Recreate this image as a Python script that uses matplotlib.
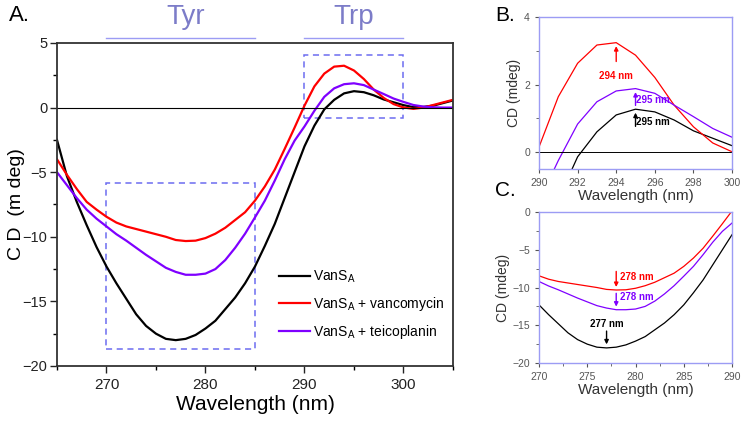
import numpy as np
import matplotlib
matplotlib.use("Agg")
import matplotlib.pyplot as plt
from matplotlib.patches import Rectangle
from matplotlib.ticker import MultipleLocator

plt.rcParams['font.family'] = ['Liberation Sans', 'DejaVu Sans']

# CD spectra, 1 nm steps
wavelength = np.arange(265, 306)
vans = [-2.5, -5.3, -7.3, -9.1, -10.8, -12.3, -13.6, -14.8, -16.0, -16.9,
        -17.5, -17.9, -18.0, -17.9, -17.6, -17.1, -16.5, -15.6, -14.7, -13.6,
        -12.3, -10.7, -9.0, -7.0, -5.0, -3.0, -1.4, -0.14, 0.60, 1.10,
        1.27, 1.19, 0.95, 0.63, 0.41, 0.19, 0.03, 0.05, 0.15, 0.35, 0.55]
vans_vanco = [-4.0, -5.2, -6.3, -7.3, -7.9, -8.45, -8.9, -9.2, -9.4, -9.6,
              -9.8, -10.0, -10.25, -10.33, -10.3, -10.1, -9.76, -9.3, -8.7, -8.1,
              -7.2, -6.1, -4.8, -3.2, -1.55, 0.15, 1.64, 2.63, 3.17, 3.24,
              2.87, 2.21, 1.39, 0.75, 0.27, 0.01, -0.1, 0.0, 0.2, 0.4, 0.6]
vans_teico = [-5.0, -6.0, -7.0, -7.9, -8.6, -9.2, -9.8, -10.3, -10.85, -11.4,
              -11.9, -12.4, -12.72, -12.94, -12.94, -12.85, -12.5, -11.8, -10.85, -9.76,
              -8.5, -7.2, -5.65, -4.0, -2.56, -1.46, -0.25, 0.83, 1.49, 1.81,
              1.88, 1.74, 1.39, 1.05, 0.70, 0.44, 0.2, 0.08, 0.02, 0.0, 0.0]

labels = ['VanS$_\\mathregular{A}$', 'VanS$_\\mathregular{A}$ + vancomycin',
          'VanS$_\\mathregular{A}$ + teicoplanin']
colors = ['black', '#ff0000', '#7f00ff']
series = [vans, vans_vanco, vans_teico]

box_col = '#6c6cf0'
light = '#9c9cf4'
region_col = '#7c7cc8'

fig = plt.figure(figsize=(7.41, 4.29), dpi=100)

# ---- Panel A
ax = fig.add_axes([0.0769, 0.1469, 0.5344, 0.7529])
for y, c, lab in zip(series, colors, labels):
    ax.plot(wavelength, y, color=c, lw=1.6, label=lab)
ax.axhline(0, color='black', lw=0.8)
ax.set_xlim(265, 305)
ax.set_ylim(-20, 5)
ax.xaxis.set_major_locator(MultipleLocator(10))
ax.xaxis.set_minor_locator(MultipleLocator(5))
ax.yaxis.set_major_locator(MultipleLocator(5))
ax.yaxis.set_minor_locator(MultipleLocator(2.5))
ax.tick_params(which='major', length=5, width=1, labelsize=11, colors='#222222')
ax.tick_params(axis='y', which='major', labelsize=10.5, pad=2)
ax.tick_params(which='minor', length=3, width=1)
for s in ax.spines.values():
    s.set_linewidth(1.3)
    s.set_color('#333333')
ax.set_xlabel('Wavelength (nm)', fontsize=15, labelpad=2)
ax.set_ylabel('C D  (m deg)', fontsize=14)
ax.yaxis.set_label_coords(-0.082, 0.5)

ax.add_patch(Rectangle((270, -18.65), 15, 12.8, fill=False, ec=box_col, lw=1.1,
                       ls=(0, (4, 3))))
ax.add_patch(Rectangle((290, -0.79), 10, 4.87, fill=False, ec=box_col, lw=1.1,
                       ls=(0, (4, 3))))
ax.plot([270, 285], [5.4, 5.4], color=light, lw=1.0, clip_on=False)
ax.plot([290, 300], [5.4, 5.4], color=light, lw=1.0, clip_on=False)
ax.text(278, 7.0, 'Tyr', color=region_col, fontsize=20, ha='center', va='center')
ax.text(295, 7.0, 'Trp', color=region_col, fontsize=20, ha='center', va='center')

ax.legend(frameon=False, loc='upper left', bbox_to_anchor=(0.53, 0.34),
          fontsize=10, handlelength=2.2, handletextpad=0.2, labelspacing=0.7)

fig.text(0.012, 0.965, 'A.', fontsize=16, va='center')

# ---- Panel B / C common style
def detail_style(a):
    for s in a.spines.values():
        s.set_color(light)
        s.set_linewidth(1.0)
    a.tick_params(which='both', labelsize=7.5, colors='#555555', direction='out')
    a.tick_params(which='major', length=3)
    a.tick_params(which='minor', length=2)
    a.set_xlabel('Wavelength (nm)', fontsize=11, color='#333333', labelpad=1)
    a.set_ylabel('CD (mdeg)', fontsize=10, color='#333333', labelpad=2)

# ---- Panel B
bx = fig.add_axes([0.7274, 0.6061, 0.2605, 0.3543])
for y, c in zip(series, colors):
    bx.plot(wavelength, y, color=c, lw=0.9)
bx.axhline(0, color='black', lw=0.7)
bx.set_xlim(290, 300)
bx.set_ylim(-0.5, 4)
bx.xaxis.set_major_locator(MultipleLocator(2))
bx.yaxis.set_major_locator(MultipleLocator(2))
bx.yaxis.set_minor_locator(MultipleLocator(1))
detail_style(bx)
arr = dict(arrowstyle='-|>', lw=1.0, mutation_scale=6)
bx.annotate('', xy=(294, 3.22), xytext=(294, 2.6), arrowprops=dict(arr, color='#ff0000'))
bx.text(294, 2.25, '294 nm', color='#ff0000', fontsize=7, weight='bold', ha='center', va='center')
bx.annotate('', xy=(295, 1.86), xytext=(295, 1.3), arrowprops=dict(arr, color='#7f00ff'))
bx.text(295.05, 1.55, '295 nm', color='#7f00ff', fontsize=7, weight='bold', ha='left', va='center')
bx.annotate('', xy=(295, 1.25), xytext=(295, 0.68), arrowprops=dict(arr, color='black'))
bx.text(295.05, 0.9, '295 nm', color='black', fontsize=7, weight='bold', ha='left', va='center')
fig.text(0.668, 0.965, 'B.', fontsize=15, va='center')

# ---- Panel C
cx = fig.add_axes([0.7274, 0.1538, 0.2605, 0.352])
for y, c in zip(series, colors):
    cx.plot(wavelength, y, color=c, lw=0.9)
cx.set_xlim(270, 290)
cx.set_ylim(-20, 0)
cx.xaxis.set_major_locator(MultipleLocator(5))
cx.xaxis.set_minor_locator(MultipleLocator(2.5))
cx.yaxis.set_major_locator(MultipleLocator(5))
cx.yaxis.set_minor_locator(MultipleLocator(2.5))
detail_style(cx)
cx.annotate('', xy=(278, -10.3), xytext=(278, -7.5), arrowprops=dict(arr, color='#ff0000'))
cx.text(278.4, -8.6, '278 nm', color='#ff0000', fontsize=7, weight='bold', ha='left', va='center')
cx.annotate('', xy=(278, -12.9), xytext=(278, -10.4), arrowprops=dict(arr, color='#7f00ff'))
cx.text(278.4, -11.3, '278 nm', color='#7f00ff', fontsize=7, weight='bold', ha='left', va='center')
cx.annotate('', xy=(277, -17.9), xytext=(277, -15.4), arrowprops=dict(arr, color='black'))
cx.text(277, -14.8, '277 nm', color='black', fontsize=7, weight='bold', ha='center', va='center')
fig.text(0.668, 0.555, 'C.', fontsize=15, va='center')

fig.savefig('out.png', dpi=100)
